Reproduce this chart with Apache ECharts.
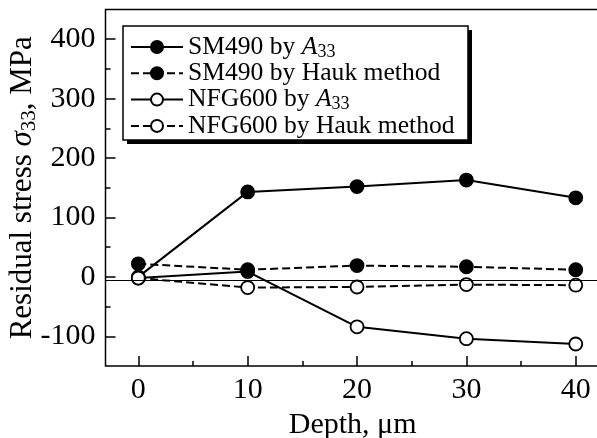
<!DOCTYPE html>
<html>
<head>
<meta charset="utf-8">
<script src="https://cdn.jsdelivr.net/npm/echarts@6/dist/echarts.min.js"></script>
<style>
  html, body { margin: 0; padding: 0; background: #fff; }
  #main { width: 597px; height: 438px; }
</style>
</head>
<body>
<div id="main"></div>
<script>
// 数据
var depth = [0, 10, 20, 30, 40];
var sm490A33 = [0, 143, 152, 163, 133];
var sm490Hauk = [22, 12, 19, 17, 12];
var nfg600A33 = [-2, 9, -84, -104, -113];
var nfg600Hauk = [-2, -18, -17, -13, -14];

var xMajor = [0, 10, 20, 30, 40];
var xMinor = [5, 15, 25, 35];
var yMajor = [-100, 0, 100, 200, 300, 400];
var yMinor = [-50, 50, 150, 250, 350];

var legendNames = ['SM490 by A33', 'SM490 by Hauk method', 'NFG600 by A33', 'NFG600 by Hauk method'];

var font = 'Liberation Serif';

function pairs(ys) {
  return depth.map(function (d, i) { return [d, ys[i]]; });
}

function makeSeries(name, ys, filled, dashed) {
  return {
    name: name,
    type: 'line',
    data: pairs(ys),
    symbol: 'circle',
    symbolSize: 13,
    lineStyle: { color: '#000', width: 2, type: dashed ? [8, 4] : 'solid' },
    itemStyle: { color: filled ? '#000' : '#fff', borderColor: '#000', borderWidth: 1.8 },
    emphasis: { disabled: true },
    animation: false
  };
}

var chart = echarts.init(document.getElementById('main'));

var series = [
  makeSeries(legendNames[2], nfg600A33, false, false),
  makeSeries(legendNames[0], sm490A33, true, false),
  makeSeries(legendNames[1], sm490Hauk, true, true),
  makeSeries(legendNames[3], nfg600Hauk, false, true)
];
// 零线（略低于0刻度）
series[0].markLine = {
  silent: true,
  symbol: 'none',
  label: { show: false },
  lineStyle: { color: '#000', width: 1.2, type: 'solid' },
  data: [{ yAxis: -6 }]
};

var tickFont = { fontFamily: font, fontSize: 30, color: '#000' };

var option = {
  backgroundColor: '#fff',
  animation: false,
  grid: {
    left: 105.5, top: 9.5, width: 494.3, height: 356.5,
    outerBoundsMode: 'none',
    show: true, borderColor: '#000', borderWidth: 1.5, backgroundColor: 'transparent'
  },
  xAxis: [{
    type: 'value', min: -3, max: 42.2,
    name: 'Depth, μm', nameLocation: 'middle', nameGap: 44, nameMoveOverlap: false,
    nameTextStyle: { fontFamily: font, fontSize: 30, color: '#000' },
    axisLine: { show: false, onZero: false },
    axisTick: { inside: true, length: 10, customValues: xMajor, lineStyle: { color: '#000', width: 1.5 } },
    axisLabel: Object.assign({ margin: 9, customValues: xMajor }, tickFont),
    splitLine: { show: false }
  }, {
    type: 'value', min: -3, max: 42.2, position: 'bottom',
    axisLine: { show: false, onZero: false },
    axisTick: { inside: true, length: 5, customValues: xMinor, lineStyle: { color: '#000', width: 1.5 } },
    axisLabel: { show: false },
    splitLine: { show: false }
  }],
  yAxis: [{
    type: 'value', min: -150, max: 450,
    name: 'Residual stress {i|σ}{s|33}, MPa', nameLocation: 'middle', nameGap: 66, nameMoveOverlap: false,
    nameTextStyle: {
      fontFamily: font, fontSize: 31, color: '#000',
      rich: {
        i: { fontFamily: font, fontSize: 31, fontStyle: 'italic', color: '#000' },
        s: { fontFamily: font, fontSize: 21, color: '#000', padding: [13, 0, 0, 0] }
      }
    },
    axisLine: { show: false, onZero: false },
    axisTick: { inside: true, length: 10, customValues: yMajor, lineStyle: { color: '#000', width: 1.5 } },
    axisLabel: Object.assign({ margin: 10, customValues: yMajor }, tickFont),
    splitLine: { show: false }
  }, {
    type: 'value', min: -150, max: 450, position: 'left',
    axisLine: { show: false, onZero: false },
    axisTick: { inside: true, length: 5, customValues: yMinor, lineStyle: { color: '#000', width: 1.5 } },
    axisLabel: { show: false },
    splitLine: { show: false }
  }],
  legend: {
    data: legendNames,
    orient: 'vertical',
    left: 125, top: 28,
    itemWidth: 52, itemHeight: 15, itemGap: -0.7,
    z: 10,
    selectedMode: false,
    formatter: function (name) {
      return name.replace('A33', '{i|A}{s|33}');
    },
    textStyle: {
      fontFamily: font, fontSize: 25.6, color: '#000', lineHeight: 25,
      rich: {
        i: { fontFamily: font, fontSize: 25.6, fontStyle: 'italic', color: '#000', lineHeight: 25 },
        s: { fontFamily: font, fontSize: 18, color: '#000', padding: [10, 0, 0, 0], lineHeight: 25 }
      }
    }
  },
  graphic: [
    { type: 'rect', z: 5, shape: { x: 127, y: 30, width: 345, height: 114 }, style: { fill: '#000' } },
    { type: 'rect', z: 6, shape: { x: 123, y: 26, width: 345, height: 114 }, style: { fill: '#fff', stroke: '#000', lineWidth: 1.5 } }
  ],
  series: series
};

chart.setOption(option);
</script>
</body>
</html>
